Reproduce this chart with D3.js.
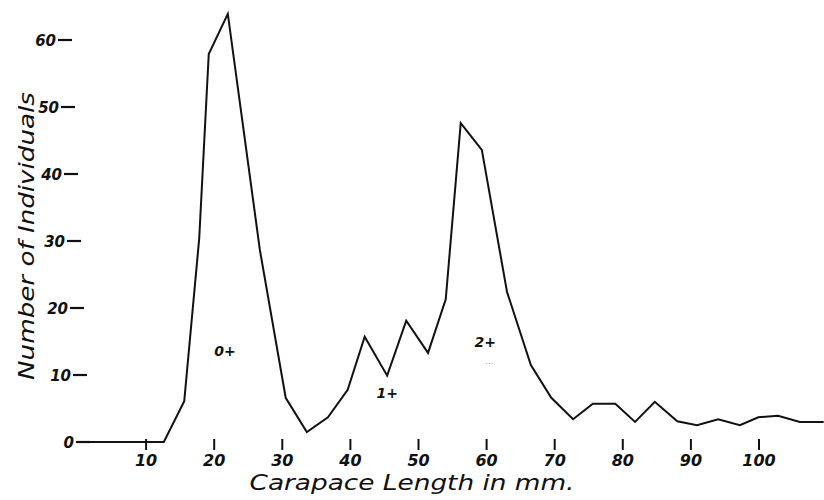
<!DOCTYPE html>
<html>
<head>
<meta charset="utf-8">
<script src="https://cdn.jsdelivr.net/npm/d3@7"></script>
<style>
  html, body { margin: 0; padding: 0; background: #fff; }
  svg { display: block; }
  text { font-family: "DejaVu Sans", sans-serif; fill: #111; }
</style>
</head>
<body>
<div id="chart"></div>
<script>
// carapace length (mm) and number of individuals
var lengths = [0, 12.6, 15.6, 17.8, 19.2, 22.0, 26.7, 30.5, 33.6, 36.7, 39.6, 42.1, 45.4, 48.2, 51.4, 54.0,
               56.2, 59.3, 63.0, 66.5, 69.5, 72.7, 75.6, 78.9, 81.8, 84.7, 88.0, 90.9, 94.0, 97.2, 99.9,
               102.8, 106.0, 109.5];
var counts  = [0, 0, 6.1, 30.4, 57.9, 63.9, 28.7, 6.6, 1.5, 3.7, 7.8, 15.7, 9.9, 18.1, 13.3, 21.3,
               47.6, 43.6, 22.4, 11.5, 6.6, 3.4, 5.7, 5.7, 3.0, 6.0, 3.1, 2.5, 3.4, 2.5, 3.7,
               3.9, 3.0, 3.0];

var xTicks = [10, 20, 30, 40, 50, 60, 70, 80, 90, 100];
var yTicks = [0, 10, 20, 30, 40, 50, 60];

// age-class labels placed in data space
var classLabels = ["0+", "1+", "2+"];
var classX = [21.6, 45.4, 59.8];
var classY = [13.5, 7.3, 14.9];

var width = 824, height = 500;

var x = d3.scaleLinear().domain([0, 100]).range([78, 759]);
var y = d3.scaleLinear().domain([0, 60]).range([442, 40]);

var svg = d3.select("#chart").append("svg")
    .attr("width", width)
    .attr("height", height);

// y ticks: hand drawn, they lean a little to the right going down
var yg = svg.append("g").attr("class", "y-ticks");
var yt = yg.selectAll("g").data(yTicks).enter().append("g")
    .attr("transform", function(d) { return "translate(" + (90 - 0.3 * d) + "," + y(d) + ")"; });
yt.append("line")
    .attr("x1", -14).attr("x2", 0)
    .attr("stroke", "#111").attr("stroke-width", 2.2);
yt.append("text")
    .attr("x", -16).attr("dy", "0.38em")
    .attr("text-anchor", "end")
    .style("font-size", "15px").style("font-weight", "bold").style("font-style", "italic")
    .text(function(d) { return d; });

// x ticks
var xg = svg.append("g").attr("class", "x-ticks");
var xt = xg.selectAll("g").data(xTicks).enter().append("g")
    .attr("transform", function(d) { return "translate(" + x(d) + ",0)"; });
xt.append("line")
    .attr("y1", 439).attr("y2", 450)
    .attr("stroke", "#111").attr("stroke-width", 2);
xt.append("text")
    .attr("y", 466)
    .attr("text-anchor", "middle")
    .style("font-size", "16px").style("font-weight", "bold").style("font-style", "italic")
    .text(function(d) { return d; });

// frequency polygon
var pts = lengths.map(function(l, i) { return [l, counts[i]]; });
var line = d3.line()
    .x(function(d) { return x(d[0]); })
    .y(function(d) { return y(d[1]); });

svg.append("path")
    .datum(pts)
    .attr("d", line)
    .attr("fill", "none")
    .attr("stroke", "#111")
    .attr("stroke-width", 2)
    .attr("stroke-linejoin", "miter");

// class labels
svg.append("g").selectAll("text").data(classLabels).enter().append("text")
    .attr("x", function(d, i) { return x(classX[i]); })
    .attr("y", function(d, i) { return y(classY[i]); })
    .attr("text-anchor", "middle")
    .attr("dy", "0.35em")
    .style("font-size", "14px").style("font-weight", "bold").style("font-style", "italic")
    .text(function(d) { return d; });

svg.append("text")
    .attr("x", x(60.4)).attr("y", y(11.7))
    .attr("text-anchor", "middle")
    .style("font-size", "9px").style("fill", "#999")
    .text("...");

// axis titles
svg.append("text")
    .attr("x", 412).attr("y", 490)
    .attr("text-anchor", "middle")
    .attr("textLength", 325).attr("lengthAdjust", "spacingAndGlyphs")
    .style("font-size", "21px").style("font-style", "italic")
    .text("Carapace Length in mm.");

svg.append("text")
    .attr("transform", "translate(34,236) rotate(-90)")
    .attr("text-anchor", "middle")
    .attr("textLength", 288).attr("lengthAdjust", "spacingAndGlyphs")
    .style("font-size", "21px").style("font-style", "italic")
    .text("Number of Individuals");
</script>
</body>
</html>
